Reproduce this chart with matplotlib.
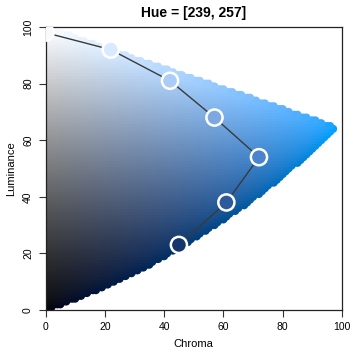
import numpy as np
import matplotlib
matplotlib.use("Agg")
import matplotlib.pyplot as plt

# palette trajectory (dark -> light)
chroma = [45, 61, 72, 57, 42, 22, 0]
luminance = [23, 38, 54, 68, 81, 92, 98]
hue = [257, 254, 251, 248, 245, 242, 239]
# hue of the background plane as a function of luminance
bg_lum = [0, 26, 66, 100]
bg_hue = [260, 253.5, 245.5, 239]
title = "Hue = [239, 257]"
ticks = [0, 20, 40, 60, 80, 100]


def hcl2rgb(L, C, H):
    L = np.asarray(L, float); C = np.asarray(C, float); H = np.asarray(H, float)
    h = np.deg2rad(H)
    U = C * np.cos(h); V = C * np.sin(h)
    Xn, Yn, Zn = 95.047, 100.0, 108.883
    den = Xn + 15 * Yn + 3 * Zn
    un = 4 * Xn / den; vn = 9 * Yn / den
    Y = np.where(L > 8, Yn * ((L + 16) / 116) ** 3, Yn * L / 903.3)
    Ls = np.where(L <= 0, 1e-9, L)
    u = U / (13 * Ls) + un
    v = V / (13 * Ls) + vn
    X = 9 * Y * u / (4 * v)
    Z = 3 * Y / v - X / 3 - 5 * Y
    X, Y, Z = X / 100, Y / 100, Z / 100
    R = 3.240479 * X - 1.537150 * Y - 0.498535 * Z
    G = -0.969256 * X + 1.875992 * Y + 0.041556 * Z
    B = 0.055648 * X - 0.204043 * Y + 1.057311 * Z
    lin = np.stack([R, G, B], axis=-1)
    ok = np.all((lin >= -1e-4) & (lin <= 1 + 1e-4), axis=-1)
    ok &= ~((L <= 0) & (C > 0))
    lin = np.clip(lin, 0, 1)
    srgb = np.where(lin <= 0.0031308, 12.92 * lin, 1.055 * lin ** (1 / 2.4) - 0.055)
    return np.clip(srgb, 0, 1), ok


plt.rcParams['font.family'] = ['Liberation Sans', 'DejaVu Sans']
fig = plt.figure(figsize=(3.53, 3.52), dpi=100)
ax = fig.add_axes([45.5 / 353, 1 - 310 / 352, (342 - 45.5) / 353, (310 - 27) / 352])

# background plane: grid of filled circles (in-gamut colours only)
cg = np.arange(0, 101, 1.0)
lg = np.arange(0, 101, 1.0)
CC, LL = np.meshgrid(cg, lg)
HH = np.interp(LL, bg_lum, bg_hue)
rgb, ok = hcl2rgb(LL, CC, HH)
ax.scatter(CC[ok], LL[ok], s=34, c=rgb[ok], marker="o", linewidths=0,
           zorder=0, clip_on=True)

pcols, _ = hcl2rgb(np.array(luminance), np.array(chroma), np.array(hue))
ax.plot(chroma, luminance, color="#3a3a3a", lw=1.0, zorder=2)
ax.scatter(chroma, luminance, s=135, c=pcols, edgecolors="white",
           linewidths=1.8, zorder=3, clip_on=True)

ax.set_xlim(0, 100)
ax.set_ylim(0, 100)
ax.set_xticks(ticks)
ax.set_yticks(ticks)
ax.set_yticklabels([str(t) for t in ticks], rotation=90, va="center")
ax.tick_params(labelsize=7.5, length=5, width=0.8, color="#333333", pad=4)
for s in ax.spines.values():
    s.set_linewidth(0.9)
    s.set_color("#222222")
ax.set_xlabel("Chroma", fontsize=8, labelpad=5)
ax.set_ylabel("Luminance", fontsize=8, labelpad=5)
ax.set_title(title, fontsize=10, fontweight="bold", pad=7)

fig.savefig("out.png", dpi=100)
